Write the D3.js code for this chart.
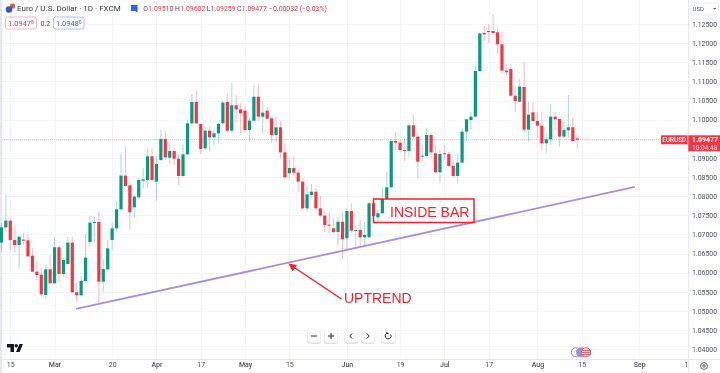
<!DOCTYPE html>
<html><head><meta charset="utf-8">
<script src="https://cdn.jsdelivr.net/npm/d3@7"></script>
<style>
html,body{margin:0;padding:0;background:#fff}
svg{display:block;filter:blur(0.3px)}
text{font-family:Roboto,"Liberation Sans",sans-serif}
</style></head><body>
<svg id="c" width="720" height="373"></svg>
<script>
// Daily OHLC, EUR/USD, 13 Feb – 14 Aug (index = trading day)
const opens=[1.06785,1.07185,1.07360,1.06854,1.06724,1.06863,1.06846,1.06445,1.06027,1.05948,
1.05417,1.06088,1.05722,1.06663,1.05966,1.06227,1.06785,1.05487,1.05408,1.05783,
1.06802,1.07307,1.07325,1.05765,1.06088,1.06854,1.07159,1.07656,1.08536,1.08283,
1.07709,1.07970,1.08405,1.08422,1.09041,1.08379,1.08945,1.09494,1.09006,1.09180,
1.08980,1.08527,1.09093,1.09903,1.10461,1.09886,1.09250,1.09712,1.09538,1.09642,
1.09903,1.10461,1.09712,1.10374,1.10269,1.10234,1.09729,1.09973,1.10600,1.10078,
1.10234,1.10034,1.09599,1.09799,1.09145,1.08597,1.08736,1.08614,1.08379,1.07682,
1.08030,1.08117,1.07682,1.07490,1.07255,1.07159,1.07063,1.07333,1.06899,1.07613,
1.07099,1.07116,1.06925,1.06925,1.07813,1.07447,1.07552,1.07927,1.08231,1.09442,
1.09399,1.09207,1.09181,1.09852,1.09556,1.09033,1.09050,1.09599,1.09120,1.08623,
1.09120,1.09103,1.08789,1.08528,1.08876,1.09686,1.09991,1.10078,1.11272,1.12265,
1.12317,1.12317,1.12283,1.11969,1.11281,1.11324,1.10627,1.10471,1.10854,1.09739,
1.10192,1.09965,1.09843,1.09382,1.09486,1.10078,1.10017,1.09556,1.09721,1.09800,1.09510];
const highs=[1.07290,1.08048,1.07438,1.07220,1.06985,1.07046,1.06985,1.06637,1.06288,1.06131,
1.06201,1.06462,1.06915,1.06724,1.06393,1.06941,1.06941,1.05748,1.05922,1.07002,
1.07490,1.07464,1.07595,1.06349,1.06854,1.07290,1.07874,1.09119,1.09294,1.08379,
1.08030,1.08466,1.08727,1.09250,1.09250,1.09050,1.09729,1.09703,1.09381,1.09250,
1.09102,1.09337,1.10008,1.10670,1.10757,1.09903,1.09816,1.09816,1.09729,1.09921,
1.10496,1.10688,1.10949,1.10644,1.10444,1.10356,1.10034,1.10914,1.10914,1.10470,
1.10322,1.10078,1.10078,1.09973,1.09363,1.08989,1.09050,1.08684,1.08466,1.08292,
1.08318,1.08205,1.08004,1.07595,1.07577,1.07421,1.07464,1.07595,1.07683,1.07813,
1.07221,1.07378,1.07334,1.07857,1.07900,1.07639,1.08231,1.08641,1.09486,1.09686,
1.09469,1.09512,1.09904,1.10122,1.09643,1.09338,1.09773,1.09660,1.09338,1.09207,
1.09338,1.09164,1.08946,1.09120,1.09773,1.10035,1.10209,1.11411,1.12265,1.12457,
1.12492,1.12762,1.12405,1.12300,1.11446,1.11446,1.10863,1.11063,1.11499,1.10471,
1.10471,1.10192,1.10209,1.09643,1.10410,1.10166,1.10035,1.09948,1.10645,1.10052,1.09602];
const lows=[1.06549,1.07072,1.06593,1.06532,1.06131,1.06724,1.06410,1.06009,1.05809,1.05373,
1.05330,1.05704,1.05696,1.05765,1.05896,1.06218,1.05460,1.05243,1.05373,1.05765,
1.06680,1.06793,1.05173,1.05504,1.06070,1.06593,1.07072,1.07621,1.08240,1.07116,
1.07439,1.07944,1.08205,1.08231,1.08405,1.07883,1.08919,1.08945,1.08841,1.08814,
1.08292,1.08510,1.09076,1.09886,1.09886,1.09102,1.09206,1.09180,1.09337,1.09381,
1.09860,1.09660,1.09660,1.09921,1.09642,1.09686,1.09424,1.09947,1.09973,1.09660,
1.10008,1.09398,1.09424,1.08989,1.08466,1.08466,1.08553,1.08117,1.07638,1.07595,
1.07943,1.07638,1.07464,1.07072,1.07028,1.07046,1.06724,1.06358,1.06611,1.07047,
1.06681,1.06663,1.06681,1.06916,1.07465,1.07334,1.07535,1.07927,1.08205,1.09207,
1.09164,1.08920,1.09033,1.09486,1.08467,1.08902,1.09016,1.08989,1.08597,1.08353,
1.08946,1.08772,1.08493,1.08336,1.08859,1.09442,1.09756,1.10061,1.11255,1.12039,
1.11995,1.12230,1.11734,1.11194,1.11150,1.10601,1.10209,1.10453,1.09669,1.09425,
1.09948,1.09556,1.09207,1.09138,1.09338,1.09730,1.09294,1.09512,1.09530,1.09425,1.09259];
const closes=[1.07185,1.07360,1.06854,1.06724,1.06941,1.06846,1.06427,1.06027,1.05940,1.05434,
1.06088,1.05722,1.06663,1.05966,1.06332,1.06785,1.05487,1.05408,1.05783,1.06393,
1.07307,1.07325,1.05765,1.06096,1.06637,1.07159,1.07656,1.08536,1.08266,1.07578,
1.07987,1.08423,1.08440,1.09041,1.08422,1.08841,1.09494,1.09015,1.09180,1.08980,
1.08527,1.09093,1.09903,1.10461,1.09903,1.09233,1.09712,1.09538,1.09642,1.09886,
1.10444,1.09712,1.10374,1.10269,1.10165,1.09729,1.09973,1.10600,1.10078,1.10182,
1.10025,1.09599,1.09799,1.09145,1.08492,1.08736,1.08614,1.08379,1.07682,1.08048,
1.08117,1.07682,1.07490,1.07246,1.07229,1.07063,1.07333,1.06872,1.07613,1.07099,
1.07116,1.06925,1.06986,1.07813,1.07482,1.07552,1.07927,1.08231,1.09442,1.09399,
1.09207,1.09181,1.09852,1.09556,1.08902,1.09059,1.09599,1.09146,1.08623,1.09103,
1.09094,1.08789,1.08528,1.08876,1.09686,1.10009,1.10078,1.11272,1.12256,1.12230,
1.12300,1.12265,1.11969,1.11281,1.11237,1.10627,1.10488,1.10863,1.09739,1.10131,
1.09965,1.09843,1.09382,1.09486,1.10078,1.10009,1.09556,1.09730,1.09800,1.09442,1.09477];

const timeTickIndex=[2,12,25,35,45,55,65,78,90,100,110,121,131,144,155];
const timeTickLabels=["15","Mar","20","Apr","17","May","15","Jun","19","Jul","17","Aug","15","Sep","18"];
const priceTicks=[1.125,1.12,1.115,1.11,1.105,1.10,1.095,1.09,1.085,1.08,1.075,1.07,1.065,1.06,1.055,1.05,1.045,1.04];
const lastPrice=1.09477;
const trendIndex=[16.84,143];
const trendPrice=[1.05051,1.0824];

const RED="#f23645",GREEN="#089981",TXT="#50535e";
const PANE_R=688,PANE_B=359;
const x=d3.scaleLinear().domain([0,155]).range([1.4,688]);
const y=d3.scaleLinear().domain([1.04,1.125]).range([349.2,24]);
const svg=d3.select("#c");

// clip
svg.append("defs").append("clipPath").attr("id","tclip").append("rect")
  .attr("x",0).attr("y",PANE_B).attr("width",PANE_R).attr("height",14);

// left strip
svg.append("rect").attr("x",0).attr("y",0).attr("width",2).attr("height",373).attr("fill","#e4e8f4");

// grid
svg.append("g").selectAll("line").data(priceTicks).join("line")
  .attr("x1",2).attr("x2",PANE_R).attr("y1",d=>Math.round(y(d))+.5).attr("y2",d=>Math.round(y(d))+.5)
  .attr("stroke","#f4f5f8");
svg.append("g").selectAll("line").data(timeTickIndex).join("line")
  .attr("x1",d=>Math.round(x(d))+.5).attr("x2",d=>Math.round(x(d))+.5).attr("y1",0).attr("y2",PANE_B)
  .attr("stroke","#f4f5f8");

// last price line
svg.append("line").attr("x1",2).attr("x2",PANE_R).attr("y1",y(lastPrice)).attr("y2",y(lastPrice))
  .attr("stroke",RED).attr("stroke-opacity",.3).attr("stroke-dasharray","1 1");

// candles
const idx=d3.range(opens.length);
const colorOf=i=>closes[i]>=opens[i]?GREEN:RED;
svg.append("g").selectAll("line").data(idx).join("line")
  .attr("x1",i=>x(i)).attr("x2",i=>x(i)).attr("y1",i=>y(highs[i])).attr("y2",i=>y(lows[i]))
  .attr("stroke",colorOf).attr("stroke-opacity",.32).attr("stroke-width",1.1);
svg.append("g").selectAll("rect").data(idx).join("rect")
  .attr("x",i=>x(i)-1.6).attr("width",3.2)
  .attr("y",i=>y(Math.max(opens[i],closes[i])))
  .attr("height",i=>Math.max(1,Math.abs(y(opens[i])-y(closes[i]))))
  .attr("fill",colorOf);

// axis borders
svg.append("line").attr("x1",2).attr("x2",720).attr("y1",PANE_B+.5).attr("y2",PANE_B+.5).attr("stroke","#e6e8ee");
svg.append("line").attr("x1",PANE_R+.5).attr("x2",PANE_R+.5).attr("y1",0).attr("y2",373).attr("stroke","#e6e8ee");

// price axis
const py=svg.append("g").attr("transform",`translate(${PANE_R},0)`)
  .call(d3.axisRight(y).tickValues(priceTicks.filter(p=>p!==1.095)).tickSize(0).tickPadding(4).tickFormat(d3.format(".5f")));
py.select(".domain").remove();
py.selectAll("text").attr("font-size",6.9).attr("fill",TXT).style("font-family","Roboto,sans-serif");

// time axis
const labelOf=new Map(timeTickIndex.map((v,k)=>[v,timeTickLabels[k]]));
const tx=svg.append("g").attr("clip-path","url(#tclip)").append("g").attr("transform",`translate(0,${PANE_B})`)
  .call(d3.axisBottom(x).tickValues(timeTickIndex).tickSize(0).tickPadding(3).tickFormat(d=>labelOf.get(d)));
tx.select(".domain").remove();
tx.selectAll("text").attr("font-size",7).attr("fill",TXT).style("font-family","Roboto,sans-serif")
  .attr("font-weight",(d)=>/[A-Za-z]/.test(labelOf.get(d))?500:400);

// trend line
const trend=d3.line().x(d=>x(d[0])).y(d=>y(d[1]));
svg.append("path").attr("d",trend(d3.zip(trendIndex,trendPrice)))
  .attr("stroke","#a98ddd").attr("stroke-width",1.8).attr("fill","none");

// annotations
const ANN="#fb1d2a";
svg.append("line").attr("x1",341.5).attr("y1",299).attr("x2",292).attr("y2",266)
  .attr("stroke",ANN).attr("stroke-width",1.5);
svg.append("path").attr("d","M288.5,263.5 L297,265 L292.5,271.5 Z").attr("fill",ANN);
svg.append("text").attr("x",344).attr("y",303).attr("font-size",14).attr("fill",ANN)
  .style("font-family","'Liberation Sans',sans-serif").text("UPTREND");
svg.append("rect").attr("x",373.5).attr("y",199).attr("width",100.5).attr("height",23.5)
  .attr("fill","none").attr("stroke",ANN).attr("stroke-width",1.5);
svg.append("text").attr("x",390).attr("y",216.5).attr("font-size",14).attr("fill",ANN)
  .style("font-family","'Liberation Sans',sans-serif").text("INSIDE BAR");

// header
svg.append("circle").attr("cx",12.5).attr("cy",6).attr("r",2.6).attr("fill","#e2574c");
svg.append("circle").attr("cx",9).attr("cy",9.5).attr("r",3.3).attr("fill","#2f5fb3");
svg.append("text").attr("x",17).attr("y",11.3).attr("font-size",8).attr("fill","#3a3d48")
  .text("Euro / U.S. Dollar · 1D · FXCM");
svg.append("path").attr("d","M131,5 h6.5 v7.5 l-2.5,-1.5 h-4 z").attr("fill","#2962ff");
const legendKeys=[["O",143.2],["H",175],["L",206.5],["C",237]];
const legendVals=["1.09510","1.09602","1.09259","1.09477"];
legendKeys.forEach(([k,px],i)=>{
  const t=svg.append("text").attr("x",px).attr("y",11.3).attr("font-size",6.9);
  t.append("tspan").attr("fill",TXT).text(k);
  t.append("tspan").attr("fill",RED).attr("dx",.3).text(legendVals[i]);
});
svg.append("text").attr("x",269).attr("y",11.3).attr("font-size",6.9).attr("fill",RED).text("−0.00032 (−0.03%)");

// bid/ask
function quote(xp,w,col,txtcol,main,sup){
  svg.append("rect").attr("x",xp).attr("y",17).attr("width",w).attr("height",12).attr("rx",2)
    .attr("fill","#fff").attr("stroke",col).attr("stroke-width",1);
  const t=svg.append("text").attr("x",xp+w/2).attr("y",25.5).attr("text-anchor","middle").attr("font-size",7.4).attr("fill",txtcol);
  t.append("tspan").text(main);
  t.append("tspan").attr("font-size",5).attr("dy",-1.8).text(sup);
}
quote(5.5,31,"#f9b3ba",RED,"1.0947","8");
svg.append("text").attr("x",40.5).attr("y",25.5).attr("font-size",7).attr("fill",TXT).text("0.2");
quote(53.5,30.5,"#a9c3fb","#2962ff","1.0948","0");

// currency box
svg.append("rect").attr("x",691).attr("y",3).attr("width",27.5).attr("height",12).attr("rx",2)
  .attr("fill","#fff").attr("stroke","#eceef3");
svg.append("text").attr("x",692.5).attr("y",11.2).attr("font-size",6).attr("fill",TXT).text("USD");
svg.append("path").attr("d","M713,8 h3.4 l-1.7,1.8 z").attr("fill",TXT);

// price tags
svg.append("rect").attr("x",661).attr("y",135.3).attr("width",26.5).attr("height",9).attr("fill",RED);
svg.append("text").attr("x",674.2).attr("y",142.2).attr("text-anchor","middle").attr("font-size",6.4).attr("font-weight",500).attr("fill","#fff").text("EURUSD");
svg.append("rect").attr("x",688.3).attr("y",135.3).attr("width",31.7).attr("height",16).attr("fill",RED);
svg.append("text").attr("x",692).attr("y",142.2).attr("font-size",7).attr("font-weight",700).attr("fill","#fff").text("1.09477");
svg.append("text").attr("x",692).attr("y",149.5).attr("font-size",6.6).attr("fill","#fcdde0").text("10:04:48");

// zoom buttons
const btnX=[314,331,351,368,388.5];
const btnGlyph=["M-3,0 H3","M-3,0 H3 M0,-3 V3","M1.2,-2.6 L-1.2,0 L1.2,2.6","M-1.2,-2.6 L1.2,0 L-1.2,2.6","M-1.5,-2.8 A3,3 0 1 0 2.2,-1.6 M-1.8,-4.2 L-1.5,-2.6 L0.2,-2.4"];
const btns=svg.append("g").selectAll("g").data(btnX).join("g").attr("transform",d=>`translate(${d},336)`);
btns.append("rect").attr("x",-7).attr("y",-6).attr("width",14).attr("height",14).attr("rx",3).attr("fill","#c9ccd4").attr("opacity",.6);
btns.append("rect").attr("x",-6.5).attr("y",-6.5).attr("width",13).attr("height",13).attr("rx",2.5).attr("fill","#fff");
btns.append("path").attr("d",(d,i)=>btnGlyph[i]).attr("fill","none").attr("stroke","#2a2e39").attr("stroke-width",1);

// logo
svg.append("path").attr("d","M7,344 h7 v8 h-3.5 v-4.5 h-3.5 z M19.5,344 h3.5 l-3.4,8 h-3.6 z").attr("fill","#131722");
svg.append("circle").attr("cx",16.2).attr("cy",345.8).attr("r",1.7).attr("fill","#131722");

// event markers
svg.append("circle").attr("cx",576).attr("cy",352.3).attr("r",4.6).attr("fill","#fff").attr("stroke","#b37fe0");
svg.append("circle").attr("cx",581).attr("cy",352.3).attr("r",4.6).attr("fill","#6ea3f2").attr("stroke","#f07a84");
svg.append("circle").attr("cx",586).attr("cy",352.3).attr("r",4.6).attr("fill","#fbe3e5").attr("stroke","#ef5361");
svg.append("path").attr("d","M581.5,350.5 h9 M581.5,352.5 h9 M581.5,354.5 h9").attr("stroke","#ef5361").attr("stroke-width",.9);

// settings
svg.append("circle").attr("cx",704).attr("cy",366).attr("r",3.4).attr("fill","none").attr("stroke","#3a3d48").attr("stroke-width",.8);
svg.append("circle").attr("cx",704).attr("cy",366).attr("r",1.2).attr("fill","none").attr("stroke","#3a3d48").attr("stroke-width",.8);
</script>
</body></html>
